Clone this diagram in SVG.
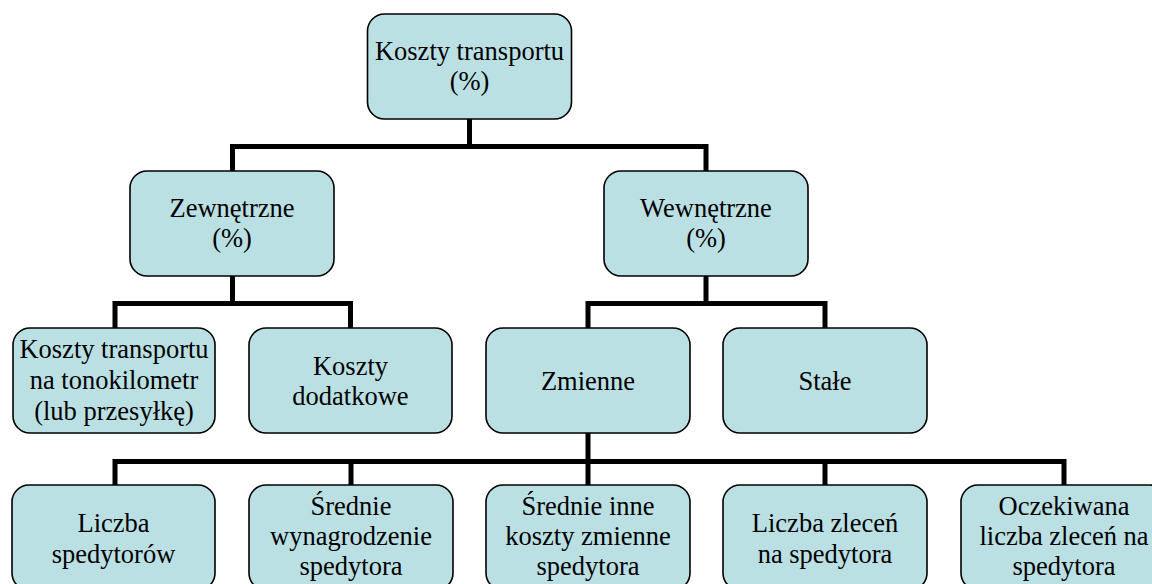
<svg xmlns="http://www.w3.org/2000/svg" width="1152" height="584" viewBox="0 0 1152 584">
<style>
.box{fill:#BBE0E3;stroke:#000;stroke-width:1.6}
.t{font-family:'Liberation Serif','Times New Roman','DejaVu Serif',serif;font-size:26.5px;fill:#000;text-anchor:middle}
.c{fill:none;stroke:#000;stroke-width:5;stroke-linecap:butt;stroke-linejoin:miter}
</style>
<rect width="1152" height="584" fill="#fff"/>
<g id="connectors">
<path class="c" d="M469.5 119V146.5M232.5 171V146.5H706V171"/>
<path class="c" d="M232.5 276V303.5M115 328V303.5H350.5V328"/>
<path class="c" d="M706 276V303.5M588 328V303.5H825V328"/>
<path class="c" d="M588 433V461.5M115 485V461.5H1064V485M351 461.5V485M588 461.5V485M825 461.5V485"/>
</g>
<g font-family="Liberation Serif, Times New Roman, DejaVu Serif, serif">
<g id="n-root"><rect class="box" x="367.5" y="14" width="204" height="105" rx="17"/>
<text class="t" x="469.5" y="60">Koszty transportu</text><text class="t" x="469.5" y="90">(%)</text></g>
<g id="n-zew"><rect class="box" x="130" y="171" width="204" height="105" rx="17"/>
<text class="t" x="232" y="217">Zewnętrzne</text><text class="t" x="232" y="247">(%)</text></g>
<g id="n-wew"><rect class="box" x="604" y="171" width="204" height="105" rx="17"/>
<text class="t" x="706" y="217">Wewnętrzne</text><text class="t" x="706" y="247">(%)</text></g>
<g id="n-ktt"><rect class="box" x="13" y="328" width="202" height="105" rx="17"/>
<text class="t" x="114" y="358">Koszty transportu</text><text class="t" x="114" y="389">na tonokilometr</text><text class="t" x="114" y="420">(lub przesyłkę)</text></g>
<g id="n-kd"><rect class="box" x="249" y="328" width="203" height="105" rx="17"/>
<text class="t" x="350.5" y="375">Koszty</text><text class="t" x="350.5" y="405">dodatkowe</text></g>
<g id="n-zm"><rect class="box" x="486" y="328" width="204" height="105" rx="17"/>
<text class="t" x="588" y="390">Zmienne</text></g>
<g id="n-st"><rect class="box" x="723" y="328" width="204" height="105" rx="17"/>
<text class="t" x="825" y="390">Stałe</text></g>
<g id="n-ls"><rect class="box" x="12" y="485" width="203" height="105" rx="17"/>
<text class="t" x="113.5" y="532">Liczba</text><text class="t" x="113.5" y="563">spedytorów</text></g>
<g id="n-sw"><rect class="box" x="249" y="485" width="204" height="105" rx="17"/>
<text class="t" x="351" y="515">Średnie</text><text class="t" x="351" y="545">wynagrodzenie</text><text class="t" x="351" y="575">spedytora</text></g>
<g id="n-sik"><rect class="box" x="486" y="485" width="204" height="105" rx="17"/>
<text class="t" x="588" y="515">Średnie inne</text><text class="t" x="588" y="545">koszty zmienne</text><text class="t" x="588" y="575">spedytora</text></g>
<g id="n-lz"><rect class="box" x="723" y="485" width="204" height="105" rx="17"/>
<text class="t" x="825" y="532">Liczba zleceń</text><text class="t" x="825" y="563">na spedytora</text></g>
<g id="n-olz"><rect class="box" x="961" y="485" width="206" height="105" rx="17"/>
<text class="t" x="1064" y="515">Oczekiwana</text><text class="t" x="1064" y="545">liczba zleceń na</text><text class="t" x="1064" y="575">spedytora</text></g>
</g>
</svg>
